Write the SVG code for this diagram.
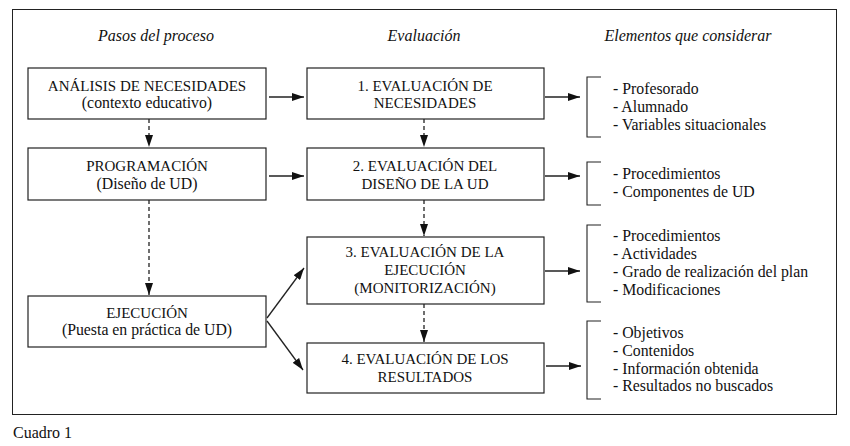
<svg xmlns="http://www.w3.org/2000/svg" width="850" height="446" viewBox="0 0 850 446">
<style>
text{font-family:"Liberation Serif","Times New Roman",serif;font-size:15px;fill:#111}
.h{font-style:italic;text-anchor:middle;font-size:16px}
.c{text-anchor:middle}
.l{font-size:15.8px}
.box{fill:#fff;stroke:#222;stroke-width:1.2}
.ln{stroke:#222;stroke-width:1.3;fill:none}
.ds{stroke:#222;stroke-width:1.3;fill:none;stroke-dasharray:4 3}
.br{stroke:#222;stroke-width:1.1;fill:none}
</style>
<defs>
<marker id="ah" viewBox="0 0 12 8" refX="12" refY="4" markerWidth="12" markerHeight="8" markerUnits="userSpaceOnUse" orient="auto">
<path d="M0,0 L12,4 L0,8 Z" fill="#111"/>
</marker>
</defs>
<rect width="850" height="446" fill="#fff"/>
<rect x="12.5" y="9.5" width="824" height="405" fill="none" stroke="#222" stroke-width="1"/>
<text class="h" x="156" y="41">Pasos del proceso</text>
<text class="h" x="424" y="41">Evaluación</text>
<text class="h" x="688" y="41">Elementos que considerar</text>

<g id="n-analisis"><rect class="box" x="28" y="68" width="238" height="51"/><text class="c" x="147" y="91">ANÁLISIS DE NECESIDADES</text><text class="c l" x="147" y="108">(contexto educativo)</text></g>
<g id="n-programacion"><rect class="box" x="28" y="148" width="238" height="52"/><text class="c" x="147" y="171">PROGRAMACIÓN</text><text class="c l" x="147" y="189">(Diseño de UD)</text></g>
<g id="n-ejecucion"><rect class="box" x="28" y="296" width="238" height="51"/><text class="c" x="147" y="318">EJECUCIÓN</text><text class="c l" x="147" y="335">(Puesta en práctica de UD)</text></g>

<g id="n-eval1"><rect class="box" x="307" y="68" width="237" height="51"/><text class="c" x="425" y="91">1. EVALUACIÓN DE</text><text class="c" x="425" y="108">NECESIDADES</text></g>
<g id="n-eval2"><rect class="box" x="307" y="148" width="237" height="52"/><text class="c" x="425" y="171">2. EVALUACIÓN DEL</text><text class="c" x="425" y="189">DISEÑO DE LA UD</text></g>
<g id="n-eval3"><rect class="box" x="307" y="237" width="237" height="67"/><text class="c" x="425" y="257">3. EVALUACIÓN DE LA</text><text class="c" x="425" y="275">EJECUCIÓN</text><text class="c" x="425" y="293">(MONITORIZACIÓN)</text></g>
<g id="n-eval4"><rect class="box" x="307" y="343" width="237" height="50"/><text class="c" x="425" y="364">4. EVALUACIÓN DE LOS</text><text class="c" x="425" y="382">RESULTADOS</text></g>

<g id="n-elem1"><path class="br" d="M601,77 H587 V137 H601"/><text class="l" x="613" y="94">- Profesorado</text><text class="l" x="613" y="112">- Alumnado</text><text class="l" x="613" y="130">- Variables situacionales</text></g>
<g id="n-elem2"><path class="br" d="M601,162 H587 V205 H601"/><text class="l" x="613" y="179">- Procedimientos</text><text class="l" x="613" y="197">- Componentes de UD</text></g>
<g id="n-elem3"><path class="br" d="M601,225 H587 V302 H601"/><text class="l" x="613" y="241">- Procedimientos</text><text class="l" x="613" y="259">- Actividades</text><text class="l" x="613" y="277">- Grado de realización del plan</text><text class="l" x="613" y="295">- Modificaciones</text></g>
<g id="n-elem4"><path class="br" d="M601,321 H587 V399 H601"/><text class="l" x="613" y="338">- Objetivos</text><text class="l" x="613" y="356">- Contenidos</text><text class="l" x="613" y="374">- Información obtenida</text><text class="l" x="613" y="391">- Resultados no buscados</text></g>

<g id="connectors">
<line class="ln" x1="269" y1="97" x2="304" y2="97" marker-end="url(#ah)"/>
<line class="ln" x1="269" y1="176" x2="304" y2="176" marker-end="url(#ah)"/>
<line class="ln" x1="267" y1="318" x2="304" y2="268" marker-end="url(#ah)"/>
<line class="ln" x1="267" y1="321" x2="303" y2="370" marker-end="url(#ah)"/>
<line class="ds" x1="149" y1="119" x2="149" y2="147" marker-end="url(#ah)"/>
<line class="ds" x1="149" y1="200" x2="149" y2="295" marker-end="url(#ah)"/>
<line class="ds" x1="424" y1="119" x2="424" y2="147" marker-end="url(#ah)"/>
<line class="ds" x1="424" y1="200" x2="424" y2="236" marker-end="url(#ah)"/>
<line class="ds" x1="424" y1="304" x2="424" y2="342" marker-end="url(#ah)"/>
<line class="ln" x1="545" y1="97" x2="580" y2="97" marker-end="url(#ah)"/>
<line class="ln" x1="545" y1="176" x2="580" y2="176" marker-end="url(#ah)"/>
<line class="ln" x1="545" y1="271" x2="580" y2="271" marker-end="url(#ah)"/>
<line class="ln" x1="546" y1="366" x2="581" y2="366" marker-end="url(#ah)"/>
</g>
<text x="13" y="438" style="font-size:16px">Cuadro 1</text>
</svg>
